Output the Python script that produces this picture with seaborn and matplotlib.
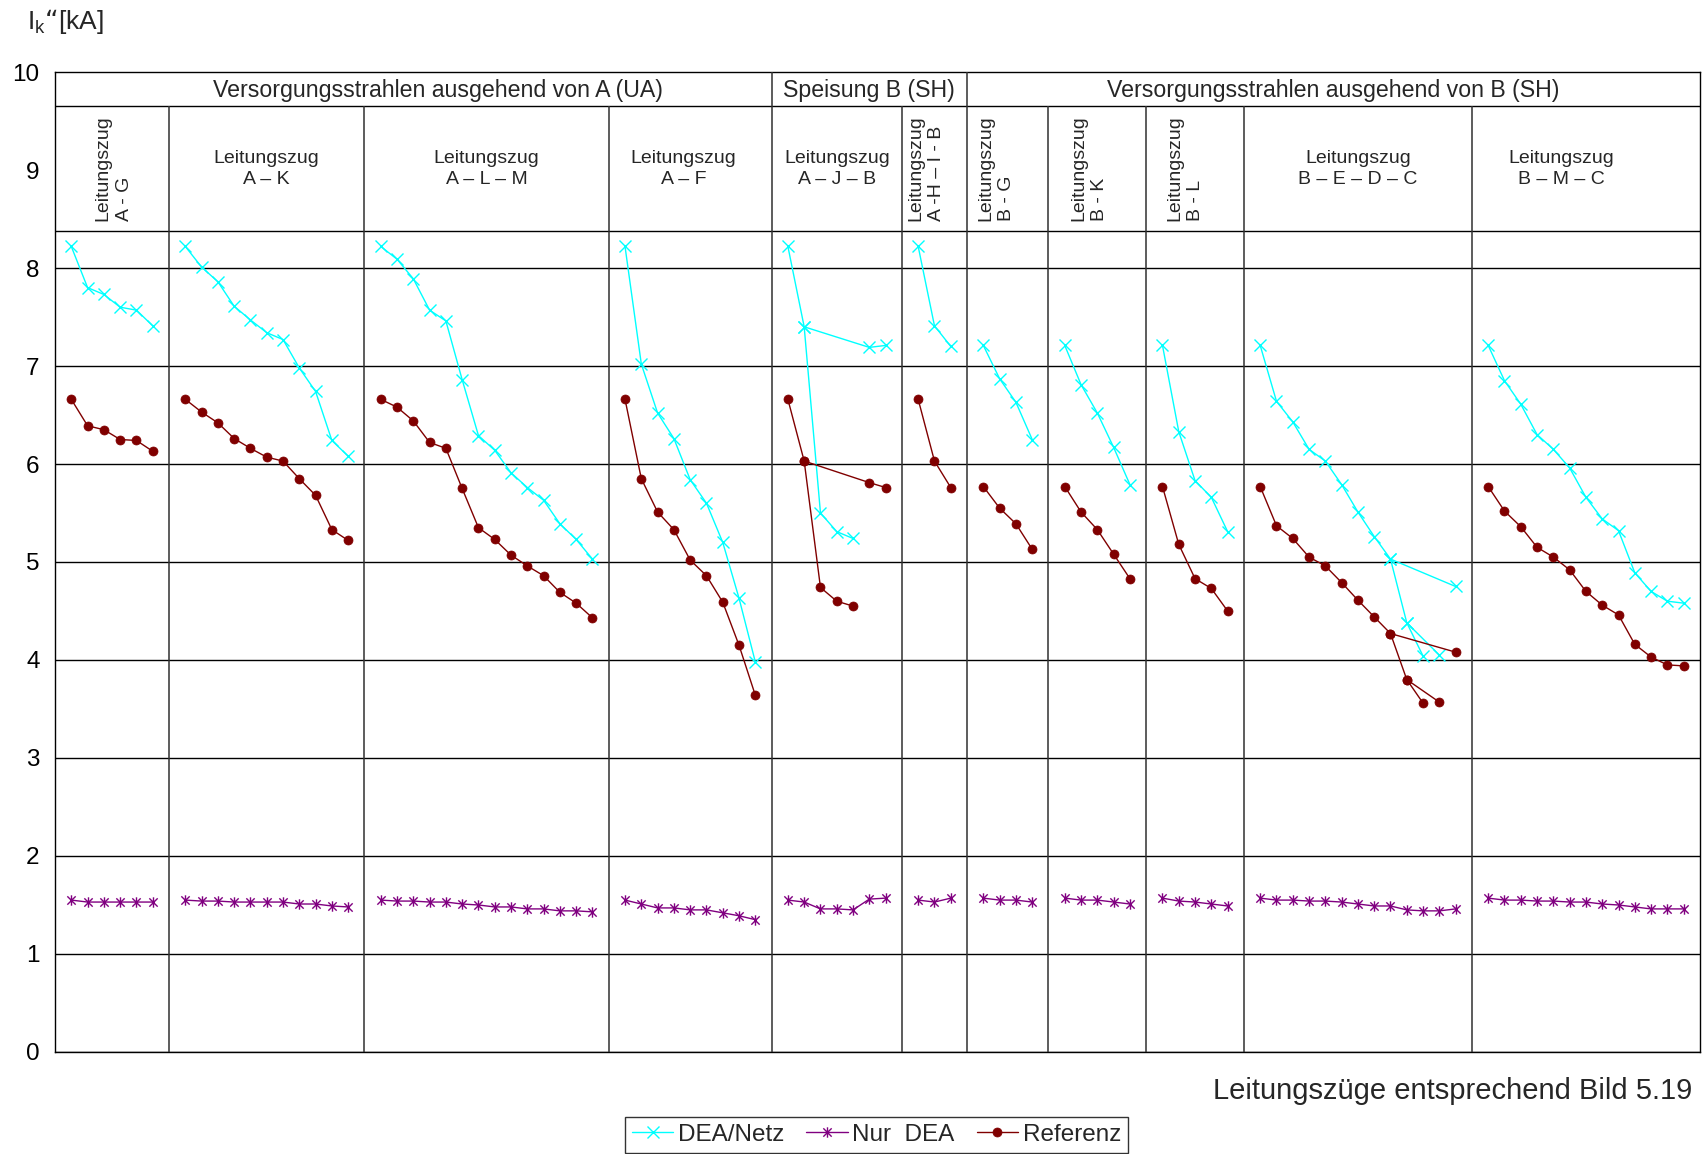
"""
Kurzschlussstrom I_k" entlang der Leitungszuege (Bild 5.19)
"""
import numpy as np
import pandas as pd
import matplotlib.pyplot as plt
import seaborn as sns
from matplotlib.path import Path
from matplotlib.lines import Line2D
from matplotlib.patches import Rectangle

sns.set_style('white')
plt.rcParams['font.family'] = ['Liberation Sans', 'DejaVu Sans']
plt.rcParams['mathtext.default'] = 'regular'

# Leitungszuege (Kopfzeile 2)
sec_labels = ['Leitungszug\nA - G', 'Leitungszug\nA – K', 'Leitungszug\nA – L – M',
              'Leitungszug\nA – F', 'Leitungszug\nA – J – B', 'Leitungszug\nA -H – I - B',
              'Leitungszug\nB - G', 'Leitungszug\nB - K', 'Leitungszug\nB - L',
              'Leitungszug\nB – E – D – C', 'Leitungszug\nB – M – C']
sec_rotated = [True, False, False, False, False, True, True, True, True, False, False]

# Kopfzeile 1: (Text, erster Leitungszug, letzter Leitungszug)
group_labels = ['Versorgungsstrahlen ausgehend von A (UA)', 'Speisung B (SH)',
                'Versorgungsstrahlen ausgehend von B (SH)']
group_first = [0, 4, 6]
group_last = [3, 5, 10]

dea_netz = [
    [8.22, 7.80, 7.73, 7.60, 7.57, 7.41],
    [8.22, 8.01, 7.86, 7.61, 7.47, 7.34, 7.27, 6.98, 6.74, 6.24, 6.08],
    [8.22, 8.09, 7.89, 7.57, 7.46, 6.86, 6.29, 6.14, 5.91, 5.76, 5.63, 5.39, 5.23, 5.03],
    [8.22, 7.02, 6.52, 6.26, 5.84, 5.60, 5.20, 4.63, 3.98],
    [8.22, 7.40, 5.50, 5.31, 5.24, 7.19, 7.21],
    [8.22, 7.41, 7.20],
    [7.21, 6.87, 6.63, 6.25],
    [7.21, 6.81, 6.52, 6.17, 5.79],
    [7.21, 6.33, 5.83, 5.66, 5.31],
    [7.21, 6.64, 6.43, 6.15, 6.03, 5.79, 5.51, 5.26, 5.03, 4.38, 4.04, 4.05, 4.75],
    [7.21, 6.85, 6.61, 6.30, 6.15, 5.96, 5.66, 5.44, 5.32, 4.89, 4.70, 4.60, 4.58],
]

nur_dea = [
    [1.55, 1.53, 1.53, 1.53, 1.53, 1.53],
    [1.55, 1.54, 1.54, 1.53, 1.53, 1.53, 1.53, 1.51, 1.51, 1.49, 1.48],
    [1.55, 1.54, 1.54, 1.53, 1.53, 1.51, 1.50, 1.48, 1.48, 1.46, 1.46, 1.44, 1.44, 1.43],
    [1.55, 1.51, 1.47, 1.47, 1.45, 1.45, 1.42, 1.39, 1.35],
    [1.55, 1.53, 1.46, 1.46, 1.45, 1.56, 1.57],
    [1.55, 1.53, 1.57],
    [1.57, 1.55, 1.55, 1.53],
    [1.57, 1.55, 1.55, 1.53, 1.51],
    [1.57, 1.54, 1.53, 1.51, 1.49],
    [1.57, 1.55, 1.55, 1.54, 1.54, 1.53, 1.51, 1.49, 1.49, 1.45, 1.44, 1.44, 1.46],
    [1.57, 1.55, 1.55, 1.54, 1.54, 1.53, 1.53, 1.51, 1.50, 1.48, 1.46, 1.46, 1.46],
]

referenz = [
    [6.66, 6.39, 6.35, 6.25, 6.24, 6.13],
    [6.66, 6.53, 6.42, 6.26, 6.16, 6.07, 6.03, 5.85, 5.68, 5.33, 5.22],
    [6.66, 6.58, 6.44, 6.22, 6.16, 5.75, 5.35, 5.23, 5.07, 4.96, 4.86, 4.69, 4.58, 4.43],
    [6.66, 5.85, 5.51, 5.33, 5.02, 4.86, 4.59, 4.15, 3.64],
    [6.66, 6.03, 4.74, 4.60, 4.55, 5.81, 5.76],
    [6.66, 6.03, 5.76],
    [5.77, 5.55, 5.39, 5.13],
    [5.77, 5.51, 5.33, 5.08, 4.83],
    [5.77, 5.18, 4.83, 4.73, 4.50],
    [5.77, 5.37, 5.24, 5.05, 4.96, 4.79, 4.61, 4.44, 4.27, 3.80, 3.56, 3.57, 4.08],
    [5.77, 5.52, 5.36, 5.15, 5.05, 4.92, 4.70, 4.56, 4.46, 4.16, 4.03, 3.95, 3.94],
]

# verzweigte Leitungszuege: Punktfolgen der einzelnen Aeste
branches = {
    4: [[0, 1, 2, 3, 4], [1, 5, 6]],
    9: [[0, 1, 2, 3, 4, 5, 6, 7, 8, 9, 10], [9, 11], [8, 12]],
}

# kleine Verschiebungen der Kopftexte (wie im Original)
group_dx = [1.5, 0, 0]
sec_dx = [0.1, 0, 0, -0.4, 0, -0.5, -0.7, -0.5, -0.6, 0, -1.5]

# Excel-Stern (x mit senkrechtem Strich)
star = Path([(-1, -1), (1, 1), (-1, 1), (1, -1), (0, -1.25), (0, 1.25)],
            [Path.MOVETO, Path.LINETO, Path.MOVETO, Path.LINETO, Path.MOVETO, Path.LINETO])

series_style = {
    'DEA/Netz': dict(color='#00FFFF', marker='x', ms=8, mew=1.0, mfc='none'),
    'Nur  DEA': dict(color='#800080', marker=star, ms=7.5, mew=1.0, mfc='none'),
    'Referenz': dict(color='#800000', marker='o', ms=6.5, mew=0.5, mfc='#800000'),
}
series_data = {'DEA/Netz': dea_netz, 'Nur  DEA': nur_dea, 'Referenz': referenz}

# Long table aufbauen
rows = []
starts = [0]
seg = 0
for k in range(len(sec_labels)):
    n = len(dea_netz[k])
    xs = starts[-1] + 1 + np.arange(n)
    for name, vals in series_data.items():
        paths = branches.get(k, [list(range(n))]) if name != 'Nur  DEA' else [list(range(n))]
        for p in paths:
            for i in p:
                rows.append(dict(x=xs[i], value=vals[k][i], series=name, seg=seg))
            seg += 1
    starts.append(starts[-1] + n + 1)
df = pd.DataFrame(rows)
x_max = starts[-1]

fig = plt.figure(figsize=(17.03, 11.54), dpi=100)
ax = fig.add_axes([0.0323, 0.0884, 0.9659, 0.8492])

for name, st in series_style.items():
    sns.lineplot(data=df[df['series'] == name], x='x', y='value', units='seg',
                 estimator=None, sort=False, color=st['color'], marker=st['marker'],
                 markersize=st['ms'], markeredgewidth=st['mew'], markeredgecolor=st['color'],
                 markerfacecolor=st['mfc'], linewidth=1.0, legend=False, ax=ax, zorder=5)

ax.set_xlim(0, x_max)
ax.set_ylim(0, 10)
ax.set_yticks(range(11))
ax.set_xticks(starts)
ax.set_xticklabels([])
ax.set_xlabel('')
ax.set_ylabel('')
ax.tick_params(axis='y', labelsize=17.5, length=5, width=1, direction='out', pad=6, colors='black')
ax.tick_params(axis='x', length=5, width=1, direction='out', colors='black')
ax.yaxis.grid(True, color='black', linewidth=1.0)
ax.xaxis.grid(False)
ax.set_axisbelow(True)
for sp in ax.spines.values():
    sp.set_color('black')
    sp.set_linewidth(1.0)

# Tabellenkopf
row1 = 9.65
row2 = 8.38
ax.add_patch(Rectangle((0, row2), x_max, 10 - row2, facecolor='white', edgecolor='none', zorder=1))
ax.hlines([row1, row2], 0, x_max, color='black', linewidth=1.0, zorder=3)
group_bounds = [starts[g] for g in group_first[1:]]
for b in starts[1:-1]:
    top = 10 if b in group_bounds else row1
    ax.vlines(b, 0, top, color='#303030', linewidth=1.1, zorder=3)

for lab, g0, g1, dx in zip(group_labels, group_first, group_last, group_dx):
    ax.text((starts[g0] + starts[g1 + 1]) / 2 + dx, 9.745, lab,
            ha='center', va='baseline', fontsize=16.7, zorder=4)

for k, lab in enumerate(sec_labels):
    xc = (starts[k] + starts[k + 1]) / 2 + sec_dx[k]
    if sec_rotated[k]:
        ax.text(xc, 9.02, lab, rotation=90, ha='center', va='center',
                multialignment='left', fontsize=14, linespacing=1.3, zorder=4)
    else:
        ax.text(xc, 9.01, lab, ha='center', va='center',
                multialignment='center', fontsize=14, linespacing=1.3, zorder=4)

# Achsentitel
fig.text(0.016, 0.981, r'I$_{k}$“[kA]', fontsize=19, ha='left', va='center')
fig.text(0.9935, 0.0545, 'Leitungszüge entsprechend Bild 5.19', fontsize=21,
         ha='right', va='center')

# Legende
handles = [Line2D([0], [0], color=st['color'], marker=st['marker'], markersize=st['ms'],
                  markeredgewidth=st['mew'], markeredgecolor=st['color'],
                  markerfacecolor=st['mfc'], linewidth=1.0)
           for st in series_style.values()]
leg = fig.legend(handles, list(series_style.keys()), loc='center', ncol=3,
                 bbox_to_anchor=(0.5147, 0.0165), fontsize=17.5, frameon=True,
                 fancybox=False, edgecolor='black', handlelength=1.7, handletextpad=0.2,
                 columnspacing=0.9, borderpad=0.3)
leg.get_frame().set_linewidth(1.0)

fig.savefig('out.png', dpi=100)
